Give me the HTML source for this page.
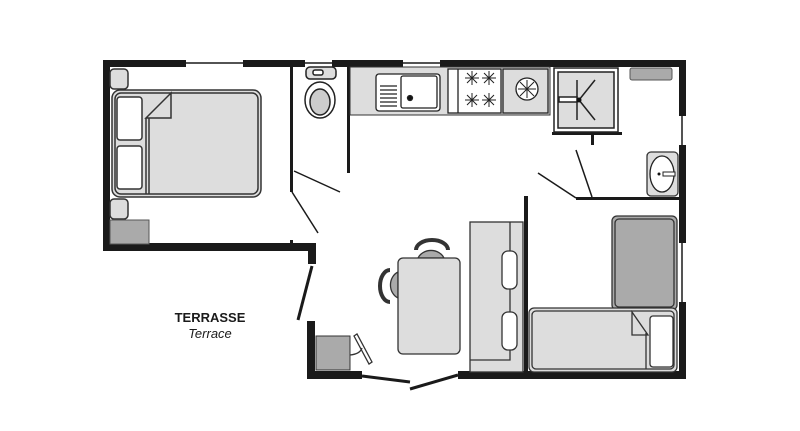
<!DOCTYPE html>
<html><head><meta charset="utf-8"><style>
html,body{margin:0;padding:0;background:#fff;width:800px;height:431px;overflow:hidden}
</style></head><body>
<svg width="800" height="431" viewBox="0 0 800 431" xmlns="http://www.w3.org/2000/svg" font-family="Liberation Sans, sans-serif">
<rect width="800" height="431" fill="#fff"/>
<g fill="#1a1a1a">
<!-- top wall -->
<rect x="103" y="60" width="83" height="7"/>
<rect x="243" y="60" width="62" height="7"/>
<rect x="332" y="60" width="71" height="7"/>
<rect x="440" y="60" width="246" height="7"/>
<!-- left wall -->
<rect x="103" y="60" width="7" height="191"/>
<rect x="103" y="243" width="213" height="8"/>
<rect x="308" y="243" width="8" height="21"/>
<!-- right wall -->
<rect x="679" y="60" width="7" height="56"/>
<rect x="679" y="145" width="7" height="98"/>
<rect x="679" y="302" width="7" height="77"/>
<!-- bottom -->
<rect x="307" y="321" width="8" height="58"/>
<rect x="307" y="371" width="55" height="8"/>
<rect x="458" y="371" width="228" height="8"/>
<!-- interior walls -->
<rect x="290" y="66" width="3" height="126"/>
<rect x="290" y="240" width="3" height="6"/>
<rect x="347" y="66" width="3" height="107"/>
<rect x="524" y="196" width="4" height="178"/>
<rect x="524" y="196" width="4" height="3"/>
<rect x="576" y="197" width="104" height="3"/>
<rect x="552" y="132" width="70" height="3"/>
<rect x="591" y="132" width="3" height="13"/>
</g>
<!-- thin wall/window lines -->
<g stroke="#1a1a1a" stroke-width="1.5" fill="none">
<line x1="186" y1="63" x2="243" y2="63"/>
<line x1="305" y1="63" x2="332" y2="63"/>
<line x1="403" y1="63" x2="440" y2="63"/>
<line x1="682" y1="116" x2="682" y2="145"/>
<line x1="682" y1="243" x2="682" y2="302"/>
<line x1="294" y1="171" x2="340" y2="192"/>
<line x1="292" y1="192" x2="318" y2="233"/>
<line x1="576" y1="150" x2="592" y2="197"/>
<line x1="538" y1="173" x2="576" y2="198"/>
</g>
<g stroke="#1a1a1a" stroke-width="3" fill="none">
<line x1="312" y1="266" x2="298" y2="320"/>
<line x1="362" y1="376" x2="410" y2="382"/>
<line x1="410" y1="389" x2="458" y2="375"/>
</g>
<!-- left bedroom -->
<g stroke="#333" stroke-width="1.5">
<rect x="110" y="69" width="18" height="20" rx="4" fill="#ddd"/>
<rect x="110" y="199" width="18" height="20" rx="4" fill="#ddd"/>
<rect x="112" y="90" width="149" height="107" rx="8" fill="#ddd"/>
<rect x="115" y="93" width="143" height="101" rx="6" fill="#ddd"/>
<rect x="117" y="97" width="25" height="43" rx="3" fill="#fff"/>
<rect x="117" y="146" width="25" height="43" rx="3" fill="#fff"/>
<line x1="146" y1="118" x2="146" y2="194"/>
<line x1="149" y1="118" x2="149" y2="194"/>
<path d="M146 118 L171 93 L171 118 Z" fill="#ddd"/>
</g>
<rect x="110" y="220" width="39" height="24" fill="#aaa" stroke="#555"/>
<!-- toilet -->
<g stroke="#222" stroke-width="1.5">
<rect x="306" y="67" width="30" height="12" rx="4" fill="#ddd"/>
<rect x="313" y="70" width="10" height="5" rx="2" fill="#fff"/>
<ellipse cx="320" cy="100" rx="15" ry="18" fill="#fff"/>
<ellipse cx="320" cy="102" rx="10" ry="13" fill="#ccc"/>
</g>
<!-- kitchen counter -->
<rect x="350" y="67" width="200" height="48" fill="#ddd" stroke="#333"/>
<g stroke="#222" stroke-width="1.3">
<rect x="376" y="74" width="64" height="37" rx="3" fill="#fff"/>
<rect x="401" y="76" width="36" height="32" rx="2" fill="#fff"/>
<circle cx="410" cy="98" r="2.5" fill="#111"/>
<line x1="380" y1="86" x2="397" y2="86"/><line x1="380" y1="90" x2="397" y2="90"/>
<line x1="380" y1="94" x2="397" y2="94"/><line x1="380" y1="98" x2="397" y2="98"/>
<line x1="380" y1="102" x2="397" y2="102"/><line x1="380" y1="106" x2="397" y2="106"/>
<rect x="448" y="69" width="53" height="44" fill="#fff"/>
<line x1="458" y1="69" x2="458" y2="113"/>
<rect x="503" y="69" width="45" height="44" fill="#ddd"/>
<circle cx="527" cy="89" r="11" fill="#fff"/>
</g>
<g stroke="#222" stroke-width="1">
<path d="M467 73 l10 10 M477 73 l-10 10 M472 71 v14 M465 78 h14"/>
<path d="M484 73 l10 10 M494 73 l-10 10 M489 71 v14 M482 78 h14"/>
<path d="M467 95 l10 10 M477 95 l-10 10 M472 93 v14 M465 100 h14"/>
<path d="M484 95 l10 10 M494 95 l-10 10 M489 93 v14 M482 100 h14"/>
<path d="M520 82 l14 14 M534 82 l-14 14 M527 80 v18 M518 89 h18"/>
</g>
<!-- shower -->
<g stroke="#222" stroke-width="1.5" fill="none">
<rect x="554" y="68" width="64" height="64" fill="#fff"/>
<rect x="558" y="72" width="56" height="56" fill="#ddd"/>
<line x1="577" y1="80" x2="577" y2="120"/>
<line x1="579" y1="100" x2="595" y2="80"/>
<line x1="579" y1="100" x2="595" y2="120"/>
<rect x="559" y="97" width="18" height="5" fill="#fff"/>
</g>
<circle cx="579" cy="100" r="2.5" fill="#111"/>
<rect x="630" y="68" width="42" height="12" rx="2" fill="#aaa" stroke="#555"/>
<!-- wash basin -->
<rect x="647" y="152" width="31" height="44" rx="4" fill="#ddd" stroke="#333" stroke-width="1.3"/>
<ellipse cx="662" cy="174" rx="12" ry="18" fill="#fff" stroke="#222" stroke-width="1.3"/>
<circle cx="659" cy="174" r="1.5" fill="#111"/>
<rect x="663" y="172" width="12" height="4" fill="#fff" stroke="#222"/>
<!-- sofa -->
<g stroke="#333" stroke-width="1.3">
<rect x="470" y="222" width="53" height="150" fill="#ddd"/>
<polyline points="510,222 510,360 470,360" fill="none"/>
<rect x="502" y="251" width="15" height="38" rx="6" fill="#fff"/>
<rect x="502" y="312" width="15" height="38" rx="6" fill="#fff"/>
</g>
<!-- table & chairs -->
<g stroke="#333" stroke-width="1.3">
<path d="M418 258 a14 12 0 0 1 26 0 Z" fill="#aaa"/>
<path d="M416 250 a16 10 0 0 1 32 0" fill="none" stroke-width="4"/>
<path d="M398 272 a12 14 0 0 0 0 26 Z" fill="#aaa"/>
<path d="M390 270 a10 16 0 0 0 0 32" fill="none" stroke-width="4"/>
<rect x="398" y="258" width="62" height="96" rx="5" fill="#ddd"/>
</g>
<!-- right bedroom -->
<g stroke="#333" stroke-width="1.3">
<rect x="612" y="216" width="65" height="94" rx="5" fill="#aaa"/>
<rect x="615" y="219" width="59" height="88" rx="4" fill="#aaa"/>
<rect x="529" y="308" width="148" height="64" rx="5" fill="#ddd"/>
<rect x="532" y="311" width="142" height="58" rx="4" fill="#ddd"/>
<rect x="650" y="316" width="23" height="51" rx="3" fill="#fff"/>
<path d="M632 312 L632 335 L648 335 Z" fill="#ddd"/>
<line x1="646" y1="333" x2="646" y2="369"/>
</g>
<!-- terrace cabinet -->
<rect x="316" y="336" width="34" height="34" fill="#aaa" stroke="#333"/>
<g stroke="#333" stroke-width="1.3" fill="#fff">
<path d="M354 336 L357 334 L372 362 L369 364 Z"/>
<path d="M350 355 Q360 354 362 348" fill="none"/>
</g>
<text x="210" y="322" text-anchor="middle" font-size="13" font-weight="bold" fill="#1a1a1a">TERRASSE</text>
<text x="210" y="338" text-anchor="middle" font-size="13" font-style="italic" fill="#1a1a1a">Terrace</text>
</svg>
</body></html>
